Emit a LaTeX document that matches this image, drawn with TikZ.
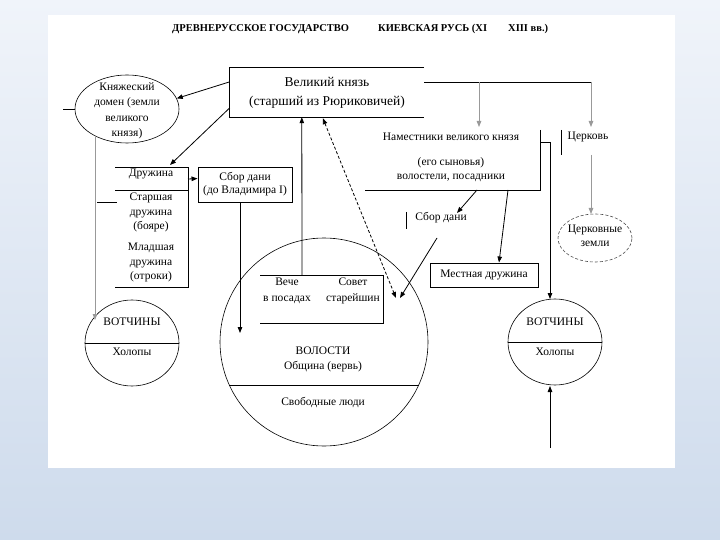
\documentclass[tikz,border=0pt]{standalone}
\usepackage{fontspec}
\setmainfont{Liberation Serif}
\usetikzlibrary{positioning,arrows.meta,calc,shapes.geometric}
\definecolor{bgtop}{RGB}{240,244,250}
\definecolor{bgbot}{RGB}{206,219,236}
\tikzset{
  frame/.style={line width=0.9pt},
  conn/.style={-{Triangle[length=6pt,width=4.5pt]},line width=0.8pt},
  gconn/.style={conn,draw=black!40},
  dconn/.style={{Triangle[length=6pt,width=4.5pt]}-{Triangle[length=6pt,width=4.5pt]},
    line width=0.8pt,dash pattern=on 3pt off 2pt},
  txt/.style={font=\fontsize{11.5}{14.5}\selectfont,inner sep=0pt,align=center},
  ttl/.style={font=\bfseries\fontsize{10.5}{12}\selectfont,inner sep=0pt,anchor=west},
  area/.style={inner sep=0pt,outer sep=0pt},
  oval/.style={ellipse,draw,line width=0.6pt,inner sep=0pt},
}

\begin{document}
\begin{tikzpicture}[x=1pt,y=-1pt]
  \useasboundingbox (0,0) rectangle (720,540);
  \shade[top color=bgtop,bottom color=bgbot] (0,0) rectangle (720,540);
  \fill[white] (48,15) rectangle (675,468);

  % title
  \node[ttl] (ttlA) at (172,29) {ДРЕВНЕРУССКОЕ ГОСУДАРСТВО};
  \node[ttl] (ttlB) at (378,29) {КИЕВСКАЯ РУСЬ (XI};
  \node[ttl] (ttlC) at (508,29) {XIII вв.)};

  % grand prince, open on the right
  \node[txt,font=\fontsize{13.5}{19}\selectfont,minimum width=194pt,minimum height=49pt]
    (vk) at (327,92.5) {Великий князь\\(старший из Рюриковичей)};
  \draw[frame] (vk.north east) -- (vk.north west) -- (vk.south west) -- (vk.south east);

  % princely domain
  \node[oval,minimum width=104pt,minimum height=68pt] (kd) at (127,109) {};
  \node[txt,font=\fontsize{11.5}{15.5}\selectfont] (kdT) at (127,111) {Княжеский\\домен (земли\\великого\\князя)};
  \draw[frame] (kd.west) -- ++(-12,0);

  % druzhina column
  \node[area,minimum width=73pt,minimum height=120pt] (dr) at (151.5,227) {};
  \draw[frame] (dr.north west) -- (dr.north east) -- (dr.south east) -- (dr.south west);
  \draw[frame] ($(dr.north west)+(0,23)$) -- ($(dr.north east)+(0,23)$);
  \draw[frame] ($(dr.north west)+(-18,35)$) -- ($(dr.north west)+(2,35)$);
  \node[txt] (drT) at (151,174) {Дружина};
  \node[txt] (drS) at (151,212.5) {Старшая\\дружина\\(бояре)};
  \node[txt] (drM) at (151,262.5) {Младшая\\дружина\\(отроки)};

  \draw[conn] ($(vk.north west)+(0,14)$) -- (kd.12);
  \coordinate (drIn) at (170,165);
  \draw[conn] ($(vk.north west)+(0,40)$) -- (drIn);

  % tribute (before Vladimir)
  \node[txt,draw,frame,font=\fontsize{11.5}{13}\selectfont,minimum width=94pt,minimum height=35pt]
    (sb1) at (245,184.5) {Сбор дани\\(до Владимира I)};
  \draw[conn] ($(dr.north east)+(0,12)$) -- ($(sb1.north west)+(0,12)$);

  % volosti
  \node[circle,draw,line width=0.6pt,minimum size=208pt,inner sep=0pt] (vol) at (324,342) {};
  \draw[frame] ($(vol.center)+(-94.7,43)$) -- ($(vol.center)+(94.7,43)$);
  \node[txt,font=\fontsize{11.5}{15}\selectfont] (volT) at (323,359.5) {ВОЛОСТИ\\Община (вервь)};
  \node[txt] (volF) at (323,402) {Свободные люди};
  \coordinate (volIn) at (240,333);
  \draw[conn] ($(sb1.south)+(-5,0)$) -- (volIn);

  % veche and elders
  \node[area,minimum width=123pt,minimum height=48pt] (vs) at (321.5,299) {};
  \draw[frame] (vs.north west) -- (vs.north east) -- (vs.south east) -- (vs.south west);
  \node[txt,font=\fontsize{11.5}{16}\selectfont] (veT) at (287,291) {Вече\\в посадах};
  \node[txt,font=\fontsize{11.5}{16}\selectfont] (soT) at (353,291) {Совет\\старейшин};
  \draw[conn] ($(vs.north west)+(42,0)$) -- ($(vk.south west)+(72,0)$);
  \coordinate (vsR) at (396,298);
  \draw[dconn] ($(vk.south west)+(93,1)$) -- (vsR);

  % namestniki, open on the left and top
  \node[area,minimum width=175pt,minimum height=60pt] (nm) at (452.5,160) {};
  \draw[frame] (nm.north east) -- (nm.south east) -- (nm.south west);
  \node[txt] (nmT) at (451,137) {Наместники великого князя};
  \node[txt,font=\fontsize{11.5}{14}\selectfont] (nmS) at (451,170) {(его сыновья)\\волостели, посадники};

  \coordinate (brR) at (591,82);
  \draw[frame] (vk.north east |- brR) -- (brR);
  \draw[gconn] (479,82) -- (479,127);
  \draw[gconn] (brR) -- (591,127);

  % church
  \node[txt] (ch) at (588,137) {Церковь};
  \draw[frame] (561,130) -- (561,155);
  \node[oval,draw=black!70,densely dashed,minimum width=74pt,minimum height=48pt] (cz) at (595,238) {};
  \node[txt] (czT) at (595,236) {Церковные\\земли};
  \draw[gconn] (591,155) -- (591,214);

  % tribute (later)
  \draw[frame] (406,212) -- (406,229);
  \node[txt] (sb2) at (441,218) {Сбор дани};
  \coordinate (sb2In) at (457,213);
  \draw[conn] ($(nm.south west)+(112,0)$) -- (sb2In);
  \coordinate (sb2Out) at (437,238);
  \draw[conn] (sb2Out) -- (400,298);

  % local druzhina
  \node[txt,draw,frame,minimum width=108pt,minimum height=24pt] (md) at (484,275) {Местная дружина};
  \draw[conn] ($(nm.south west)+(143,0)$) -- ($(md.north)+(15,0)$);

  % votchiny, right
  \node[oval,minimum width=94pt,minimum height=86pt] (vr) at (555,342) {};
  \draw[frame] (vr.west) -- (vr.east);
  \node[txt] (vrA) at (555,322) {ВОТЧИНЫ};
  \node[txt] (vrB) at (555,352) {Холопы};
  \coordinate (rtop) at (550,142);
  \draw[frame] (nm.north east |- rtop) -- (rtop);
  \draw[conn] (rtop) -- (550,299);
  \coordinate (vrLow) at (550,448);
  \draw[conn] (vrLow) -- (550,386);

  % votchiny, left
  \node[oval,minimum width=94pt,minimum height=86pt] (vl) at (132,343) {};
  \draw[frame] (vl.west) -- (vl.east);
  \node[txt] (vlA) at (132,322) {ВОТЧИНЫ};
  \node[txt] (vlB) at (132,352) {Холопы};
  \draw[gconn] (95,136) -- (95,320);
\end{tikzpicture}
\end{document}
